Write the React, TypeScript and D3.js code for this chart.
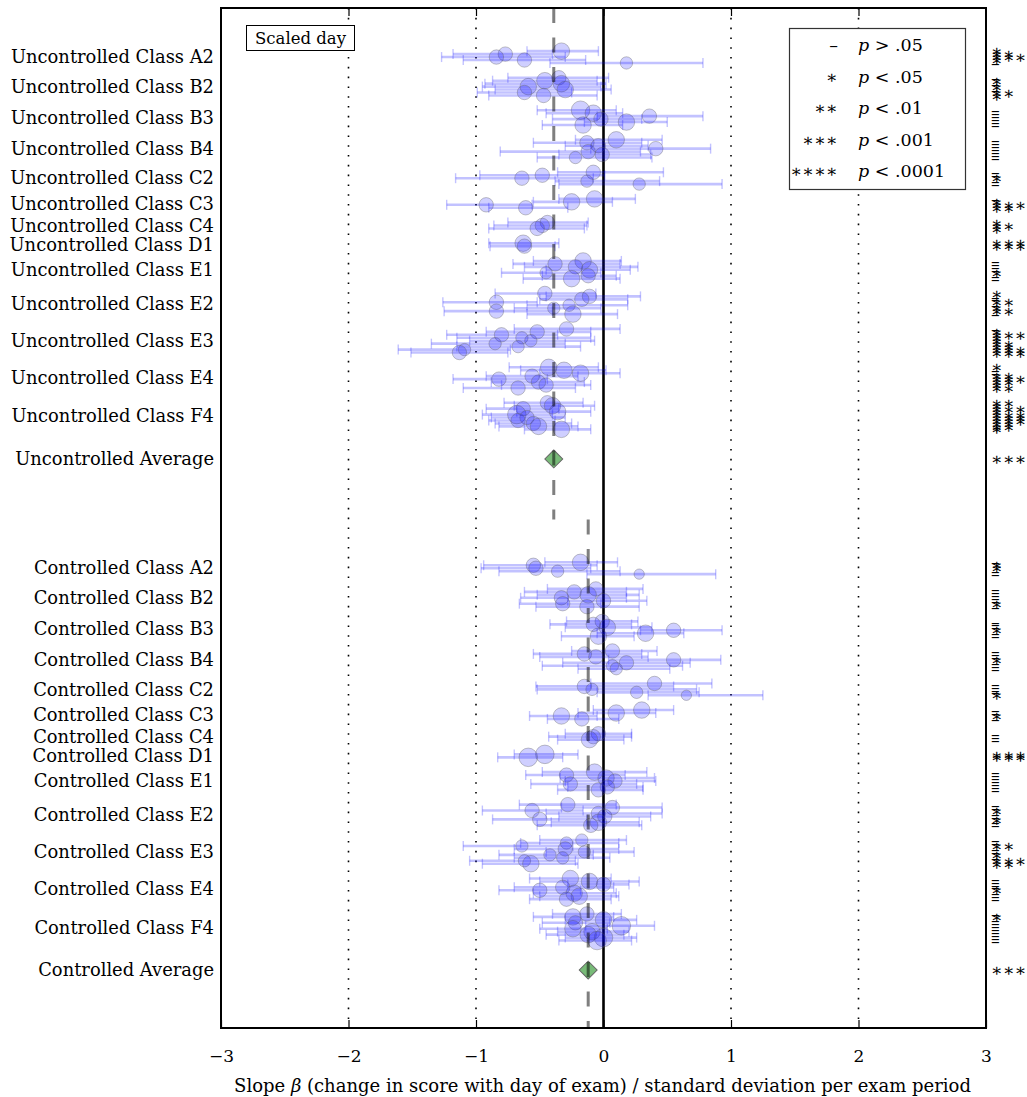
import React, { useEffect, useRef } from 'react'
import * as d3 from 'd3'

const classes = ['A2', 'B2', 'B3', 'B4', 'C2', 'C3', 'C4', 'D1', 'E1', 'E2', 'E3', 'E4', 'F4']
const groups = ['Uncontrolled', 'Controlled']

// one inner list per class, points listed top to bottom
const uncBeta = [
  [-0.33, -0.77, -0.84, -0.62, 0.18],
  [-0.35, -0.46, -0.33, -0.59, -0.30, -0.62, -0.47],
  [-0.18, -0.08, 0.36, -0.02, 0.18, -0.16],
  [0.10, -0.13, -0.04, 0.41, -0.12, -0.01, -0.22],
  [-0.08, -0.48, -0.64, -0.13, 0.28],
  [-0.07, -0.25, -0.92, -0.61],
  [-0.44, -0.48, -0.52],
  [-0.63, -0.62],
  [-0.16, -0.38, -0.22, -0.11, -0.45, -0.12, -0.25],
  [-0.46, -0.11, -0.17, -0.84, -0.27, -0.39, -0.84, -0.24],
  [-0.29, -0.52, -0.80, -0.64, -0.57, -0.85, -0.67, -1.09, -1.13],
  [-0.43, -0.31, -0.18, -0.56, -0.82, -0.51, -0.45, -0.67],
  [-0.44, -0.40, -0.63, -0.36, -0.68, -0.60, -0.67, -0.55, -0.51, -0.33],
]
const uncLo = [
  [-0.60, -1.18, -1.27, -1.10, -0.42],
  [-0.75, -0.87, -0.93, -0.95, -0.85, -0.99, -0.90],
  [-0.52, -0.45, -0.05, -0.40, -0.15, -0.48],
  [-0.22, -0.55, -0.30, -0.10, -0.81, -0.35, -0.52],
  [-0.36, -0.97, -1.16, -0.38, -0.35],
  [-0.35, -0.55, -1.23, -0.90],
  [-0.75, -0.86, -0.90],
  [-0.90, -0.89],
  [-0.55, -0.71, -0.62, -0.45, -0.80, -0.48, -0.63],
  [-0.85, -0.45, -0.50, -1.26, -0.60, -0.70, -1.25, -0.60],
  [-0.70, -0.92, -1.23, -1.15, -1.05, -1.35, -1.15, -1.61, -1.51],
  [-0.74, -0.65, -0.50, -0.92, -1.18, -0.88, -0.80, -1.10],
  [-0.78, -0.70, -0.92, -0.68, -0.95, -0.88, -0.90, -0.85, -0.82, -0.62],
]
const uncHi = [
  [-0.04, -0.40, -0.30, -0.14, 0.78],
  [0.04, -0.05, 0.02, -0.02, 0.06, -0.25, -0.05],
  [0.10, 0.15, 0.78, 0.30, 0.50, 0.15],
  [0.46, 0.30, 0.35, 0.84, 0.29, 0.37, 0.38],
  [0.47, 0.01, -0.08, 0.44, 0.93],
  [0.25, 0.07, -0.56, -0.28],
  [-0.12, -0.13, -0.15],
  [-0.35, -0.38],
  [0.14, 0.13, 0.27, 0.21, -0.02, 0.10, 0.13],
  [-0.06, 0.29, 0.19, -0.52, 0.19, -0.02, -0.40, 0.11],
  [0.13, -0.10, -0.36, -0.10, -0.07, -0.30, -0.18, -0.73, -0.75],
  [-0.04, 0.02, 0.13, -0.20, -0.44, -0.15, -0.10, -0.22],
  [-0.16, -0.07, -0.35, -0.10, -0.40, -0.30, -0.38, -0.25, -0.20, -0.10],
]
// students in each section (circle area)
const uncSize = [
  [128, 98, 98, 98, 72],
  [98, 128, 128, 128, 128, 98, 98],
  [162, 128, 98, 98, 128, 128],
  [128, 98, 98, 98, 98, 98, 72],
  [98, 98, 98, 72, 72],
  [128, 128, 98, 98],
  [98, 98, 98],
  [128, 98],
  [128, 98, 98, 128, 72, 98, 128],
  [98, 98, 98, 98, 72, 72, 98, 128],
  [98, 98, 98, 72, 72, 72, 72, 72, 98],
  [128, 128, 128, 98, 98, 98, 98, 98],
  [98, 128, 98, 128, 162, 98, 98, 98, 128, 128],
]
// 0: p > .05, 1: p < .05, 2: p < .01, 3: p < .001, 4: p < .0001
const uncSig = [
  [1, 2, 3, 1, 0],
  [0, 1, 0, 1, 0, 2, 1],
  [0, 0, 0, 0, 0, 0],
  [0, 0, 0, 0, 0, 0, 0],
  [0, 0, 1, 0, 0],
  [0, 1, 3, 2],
  [1, 2, 1],
  [3, 3],
  [0, 0, 0, 0, 1, 0, 0],
  [1, 0, 0, 2, 0, 1, 2, 0],
  [0, 1, 3, 1, 1, 2, 2, 4, 4],
  [1, 0, 0, 2, 3, 2, 1, 2],
  [2, 1, 3, 1, 4, 3, 3, 2, 2, 1],
]

const conBeta = [
  [-0.18, -0.55, -0.53, -0.36, 0.28],
  [-0.06, -0.23, -0.12, -0.33, 0.00, -0.32, -0.13],
  [-0.01, -0.08, 0.03, 0.55, 0.33, -0.04],
  [0.07, -0.15, -0.06, 0.55, 0.18, 0.07, 0.10],
  [0.40, -0.15, -0.09, 0.26, 0.65],
  [0.30, 0.10, -0.33, -0.17],
  [-0.04, -0.08, -0.11],
  [-0.46, -0.59],
  [-0.07, -0.29, 0.02, 0.09, -0.26, 0.03, -0.04],
  [-0.28, 0.07, -0.56, -0.04, 0.01, -0.50, -0.04, -0.10],
  [-0.17, -0.29, -0.64, -0.30, -0.15, -0.42, -0.32, -0.62, -0.57],
  [-0.26, -0.11, 0.00, -0.32, -0.50, -0.23, -0.19, -0.29],
  [-0.13, -0.24, 0.00, -0.22, 0.14, -0.24, -0.09, -0.12, 0.00, -0.05],
]
const conLo = [
  [-0.46, -0.94, -0.96, -0.82, -0.13],
  [-0.44, -0.62, -0.52, -0.65, -0.28, -0.66, -0.53],
  [-0.29, -0.42, -0.30, 0.29, -0.05, -0.33],
  [-0.25, -0.55, -0.50, 0.04, -0.32, -0.48, -0.20],
  [-0.10, -0.53, -0.52, -0.05, 0.35],
  [-0.08, -0.20, -0.58, -0.44],
  [-0.30, -0.43, -0.36],
  [-0.70, -0.83],
  [-0.48, -0.61, -0.34, -0.30, -0.57, -0.28, -0.36],
  [-0.66, -0.33, -0.95, -0.45, -0.35, -0.87, -0.41, -0.52],
  [-0.50, -0.65, -1.10, -0.70, -0.45, -0.82, -0.70, -1.05, -0.95],
  [-0.58, -0.50, -0.28, -0.70, -0.82, -0.55, -0.50, -0.58],
  [-0.40, -0.55, -0.30, -0.48, -0.14, -0.50, -0.36, -0.45, -0.30, -0.35],
]
const conHi = [
  [0.11, -0.05, -0.10, 0.13, 0.88],
  [0.31, 0.18, 0.28, 0.18, 0.34, -0.02, 0.28],
  [0.27, 0.22, 0.38, 0.93, 0.63, 0.24],
  [0.42, 0.30, 0.35, 0.92, 0.68, 0.62, 0.52],
  [0.85, 0.55, 0.73, 0.75, 1.25],
  [0.55, 0.41, -0.05, 0.12],
  [0.22, 0.22, 0.16],
  [-0.20, -0.32],
  [0.34, 0.17, 0.40, 0.41, 0.26, 0.31, 0.31],
  [0.10, 0.46, -0.16, 0.46, 0.37, -0.13, 0.28, 0.30],
  [0.18, 0.12, -0.24, 0.12, 0.24, -0.08, 0.05, -0.22, -0.20],
  [0.06, 0.28, 0.20, 0.08, -0.18, 0.10, 0.12, 0.06],
  [0.14, 0.08, 0.26, 0.05, 0.40, 0.03, 0.20, 0.16, 0.26, 0.22],
]
const conSize = [
  [128, 98, 98, 72, 50],
  [98, 98, 128, 98, 98, 98, 98],
  [98, 98, 128, 98, 128, 128],
  [98, 98, 98, 98, 98, 72, 72],
  [98, 98, 72, 72, 50],
  [128, 128, 128, 98],
  [98, 98, 128],
  [162, 162],
  [128, 98, 128, 98, 98, 98, 98],
  [98, 98, 98, 98, 98, 98, 128, 98],
  [72, 72, 72, 98, 72, 72, 72, 72, 128],
  [128, 128, 98, 98, 98, 128, 128, 98],
  [98, 128, 128, 98, 162, 128, 128, 128, 162, 162],
]
const conSig = [
  [0, 1, 1, 0, 0],
  [0, 0, 0, 0, 0, 1, 0],
  [0, 0, 0, 1, 0, 0],
  [0, 0, 0, 1, 0, 0, 0],
  [0, 0, 0, 0, 1],
  [0, 0, 1, 0],
  [0, 0, 0],
  [3, 3],
  [0, 0, 0, 0, 0, 0, 0],
  [0, 0, 1, 0, 0, 1, 0, 0],
  [0, 0, 2, 0, 0, 1, 0, 3, 2],
  [0, 0, 0, 0, 1, 0, 0, 0],
  [0, 1, 0, 0, 0, 0, 0, 0, 0, 0],
]

const averages = [-0.39, -0.12]
const averageSig = [3, 3]

const sigMarks = ['–', '∗', '∗∗', '∗∗∗', '∗∗∗∗']
const sigText = ['> .05', '< .05', '< .01', '< .001', '< .0001']
const xTicks = [-3, -2, -1, 0, 1, 2, 3]
const gridLines = [-2, -1, 1, 2]

const FONT = "'DejaVu Serif', 'Liberation Serif', serif"

const App = () => {
  const svgRef = useRef(null)

  useEffect(() => {
    document.body.style.margin = '0'
    const svg = d3.select(svgRef.current)
    svg.selectAll('*').remove()

    const left = 221, right = 986, top = 8, bottom = 1028
    const x = d3.scaleLinear().domain([-3, 3]).range([left, right])
    const y = d3.scaleLinear().domain([-14.6, 330.6]).range([top, bottom])
    const r = d3.scaleSqrt().domain([0, 200]).range([0, 10.3])

    // lay out rows: one row per point, gaps between classes and groups
    const points = []
    const labels = []
    const avgs = []
    const groupStart = []
    let row = 0
    const sets = [
      [uncBeta, uncLo, uncHi, uncSize, uncSig],
      [conBeta, conLo, conHi, conSize, conSig],
    ]
    sets.forEach(([beta, lo, hi, size, sig], gi) => {
      if (gi > 0) row += 35
      groupStart.push(row)
      classes.forEach((c, ci) => {
        if (ci > 0) row += 5
        const first = row
        beta[ci].forEach((b, i) => {
          if (i > 0) row += 1
          points.push({ beta: b, lo: lo[ci][i], hi: hi[ci][i], n: size[ci][i], sig: sig[ci][i], row })
        })
        labels.push({ text: `${groups[gi]} Class ${c}`, row: (first + row) / 2 })
      })
      row += 10
      avgs.push({ beta: averages[gi], sig: averageSig[gi], row })
      labels.push({ text: `${groups[gi]} Average`, row })
    })
    const split = (avgs[0].row + groupStart[1]) / 2 + 3
    const [d0, d1] = y.domain()

    // dotted reference lines
    svg.selectAll('.grid')
      .data(gridLines)
      .join('line')
      .attr('class', 'grid')
      .attr('x1', d => x(d)).attr('x2', d => x(d))
      .attr('y1', top).attr('y2', bottom)
      .attr('stroke', '#000')
      .attr('stroke-width', 1.6)
      .attr('stroke-dasharray', '1.6,8.2')

    svg.append('line')
      .attr('x1', x(0)).attr('x2', x(0))
      .attr('y1', top).attr('y2', bottom)
      .attr('stroke', '#000')
      .attr('stroke-width', 2.6)

    // error bars
    const bars = svg.append('g')
      .attr('stroke', 'rgba(0,0,255,0.24)')
      .attr('stroke-width', 2.6)
    bars.selectAll('.bar')
      .data(points)
      .join('line')
      .attr('x1', d => x(d.lo)).attr('x2', d => x(d.hi))
      .attr('y1', d => y(d.row)).attr('y2', d => y(d.row))
    bars.selectAll('.cap')
      .data(points.flatMap(d => [{ v: d.lo, row: d.row }, { v: d.hi, row: d.row }]))
      .join('line')
      .attr('stroke-width', 1.4)
      .attr('x1', d => x(d.v)).attr('x2', d => x(d.v))
      .attr('y1', d => y(d.row) - 5).attr('y2', d => y(d.row) + 5)

    svg.append('g')
      .selectAll('circle')
      .data(points)
      .join('circle')
      .attr('cx', d => x(d.beta))
      .attr('cy', d => y(d.row))
      .attr('r', d => r(d.n))
      .attr('fill', 'rgba(0,0,255,0.19)')
      .attr('stroke', 'rgba(90,90,90,0.35)')
      .attr('stroke-width', 1)

    svg.append('g')
      .selectAll('path')
      .data(avgs)
      .join('path')
      .attr('d', d3.symbol().type(d3.symbolSquare).size(160))
      .attr('transform', d => `translate(${x(d.beta)},${y(d.row)}) rotate(45)`)
      .attr('fill', '#78bb78')
      .attr('stroke', '#666')
      .attr('stroke-width', 1)

    // group average lines
    svg.selectAll('.avgline')
      .data(avgs)
      .join('line')
      .attr('class', 'avgline')
      .attr('x1', d => x(d.beta)).attr('x2', d => x(d.beta))
      .attr('y1', (d, i) => y(i === 0 ? d0 : split))
      .attr('y2', (d, i) => y(i === 0 ? split : d1))
      .attr('stroke', 'rgba(0,0,0,0.5)')
      .attr('stroke-width', 3)
      .attr('stroke-dasharray', '15,14.5')

    // frame and ticks
    svg.append('rect')
      .attr('x', left).attr('y', top)
      .attr('width', right - left).attr('height', bottom - top)
      .attr('fill', 'none').attr('stroke', '#000').attr('stroke-width', 2)

    const xAxis = d3.axisBottom(x).tickValues(xTicks).tickFormat(d3.format('d'))
      .tickSizeInner(-8).tickSizeOuter(0).tickPadding(22)
    const gx = svg.append('g').attr('transform', `translate(0,${bottom})`).call(xAxis)
    gx.select('.domain').remove()
    gx.selectAll('text').attr('font-family', FONT).attr('font-size', 17).attr('fill', '#000')
    gx.selectAll('line').attr('stroke-width', 1.2)

    const gt = svg.append('g').attr('transform', `translate(0,${top})`)
      .call(d3.axisTop(x).tickValues(gridLines.concat([0])).tickSizeInner(-8).tickSizeOuter(0).tickFormat(() => ''))
    gt.select('.domain').remove()
    gt.selectAll('line').attr('stroke-width', 1.2)

    svg.append('text')
      .attr('x', (left + right) / 2 - 1)
      .attr('y', 1092)
      .attr('text-anchor', 'middle')
      .attr('font-family', FONT)
      .attr('font-size', 18)
      .html('Slope <tspan font-style="italic">β</tspan> (change in score with day of exam) / standard deviation per exam period')

    // category labels
    svg.append('g')
      .selectAll('text')
      .data(labels)
      .join('text')
      .attr('x', 214)
      .attr('y', d => y(d.row))
      .attr('dy', '0.35em')
      .attr('text-anchor', 'end')
      .attr('font-family', FONT)
      .attr('font-size', 17.9)
      .text(d => d.text)

    // significance marks on the right
    svg.append('g')
      .selectAll('text')
      .data(points.concat(avgs))
      .join('text')
      .attr('x', 991)
      .attr('y', d => y(d.row))
      .attr('dy', '0.35em')
      .attr('font-family', FONT)
      .attr('font-size', 17.5)
      .text(d => sigMarks[d.sig])

    // "Scaled day" tag
    svg.append('rect')
      .attr('x', 246.5).attr('y', 25.5).attr('width', 108).attr('height', 25)
      .attr('fill', '#fff').attr('stroke', '#000')
    svg.append('text')
      .attr('x', 300.5).attr('y', 38).attr('dy', '0.35em')
      .attr('text-anchor', 'middle')
      .attr('font-family', FONT).attr('font-size', 16.5)
      .text('Scaled day')

    // legend
    const legend = svg.append('g')
    legend.append('rect')
      .attr('x', 789.5).attr('y', 28.5).attr('width', 176).attr('height', 161)
      .attr('fill', '#fff').attr('stroke', '#333').attr('stroke-width', 1.2)
    const ly = d3.scaleLinear().domain([0, 4]).range([45, 171])
    legend.selectAll('.sym')
      .data(sigMarks)
      .join('text')
      .attr('x', 838).attr('y', (d, i) => ly(i)).attr('dy', '0.35em')
      .attr('text-anchor', 'end')
      .attr('font-family', FONT).attr('font-size', 17.5)
      .text(d => d)
    legend.selectAll('.lab')
      .data(sigText)
      .join('text')
      .attr('x', 858).attr('y', (d, i) => ly(i)).attr('dy', '0.35em')
      .attr('font-family', FONT).attr('font-size', 17.5)
      .html(d => `<tspan font-style="italic">p</tspan> ${d}`)
  }, [])

  return <svg ref={svgRef} width={1027} height={1097} style={{ display: 'block' }} />
}

export default App
